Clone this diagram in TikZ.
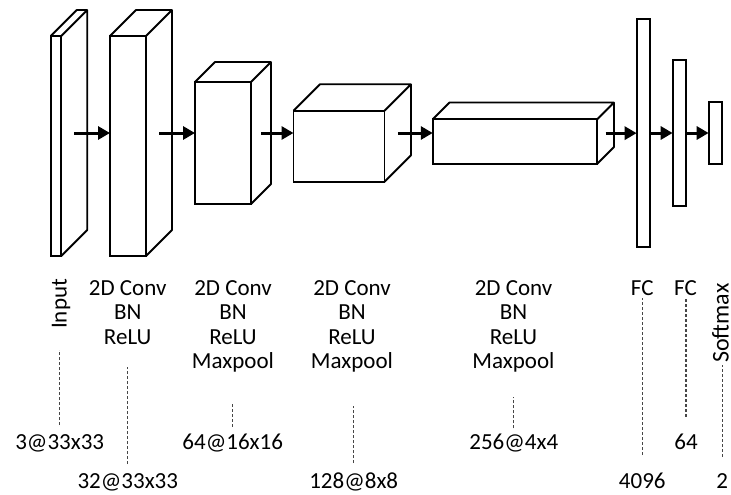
\documentclass[tikz,border=0pt]{standalone}
\usepackage{fontspec}
\setmainfont{Carlito}
\usetikzlibrary{arrows.meta, calc}
\tikzset{
  layer/.style={draw, line width=1.8pt, fill=white, inner sep=0pt, outer sep=0pt},
  flow/.style={line width=3pt, -{Triangle[length=12pt, width=13pt]}},
  guide/.style={gray!55!black, line width=1.2pt, dash pattern=on 3pt off 2pt},
  lbl/.style={align=center, anchor=north, inner sep=0pt},
  num/.style={anchor=base, inner sep=0pt}
}

\begin{document}
\begin{tikzpicture}[x=1pt, y=-1pt, font=\fontsize{23}{24.2}\selectfont]
    \useasboundingbox (0,0) rectangle (731,495);

    % Front faces of the feature maps
    \node[layer, minimum width=10.5pt, minimum height=220pt] (in) at (56,146) {};
    \node[layer, minimum width=36pt, minimum height=220pt] (c1) at (128,146) {};
    \node[layer, minimum width=56pt, minimum height=122pt] (c2) at (223,143) {};
    \node[layer, minimum width=91pt, minimum height=71pt] (c3) at (339,146.25) {};
    \node[layer, minimum width=164.5pt, minimum height=44.5pt] (c4) at (515,141.5) {};

    % Depth of each block
    \foreach \n/\d in {in/26, c1/26, c2/20, c3/26.5, c4/16.7} {
        \draw[line width=1.8pt, line join=round] (\n.north west) -- ++(\d,-\d) -| ($(\n.south east)+(\d,-\d)$) -- (\n.south east)
            (\n.north east) -- ++(\d,-\d);
        \coordinate (\n-out) at ($(\n.east)+(\d/2,-\d/2)$);
    }

    % Fully connected layers
    \node[layer, minimum width=13.3pt, minimum height=228pt] (fc1) at (643.3,133) {};
    \node[layer, minimum width=13.3pt, minimum height=146.6pt] (fc2) at (679.3,133) {};
    \node[layer, minimum width=13.3pt, minimum height=61.4pt] (sm) at (715.3,133) {};

    % Data flow
    \draw[flow] (in-out) -- (in-out -| c1.west);
    \draw[flow] (c1-out) -- (c1-out -| c2.west);
    \draw[flow] (c2-out) -- (c2-out -| c3.west);
    \draw[flow] (c3-out) -- (c3-out -| c4.west);
    \draw[flow] (c4-out) -- (c4-out -| fc1.west);
    \draw[flow] (fc1.east) -- (fc2.west);
    \draw[flow] (fc2.east) -- (sm.west);

    % Layer names
    \node[rotate=90, anchor=base west, inner sep=0pt] (in-lbl) at (66.7,329) {Input};
    \node[lbl] (c1-lbl) at (127.7,280.5) {2D Conv\\BN\\ReLU};
    \node[lbl] (c2-lbl) at (233,280.5) {2D Conv\\BN\\ReLU\\Maxpool};
    \node[lbl] (c3-lbl) at (352,280.5) {2D Conv\\BN\\ReLU\\Maxpool};
    \node[lbl] (c4-lbl) at (513.5,280.5) {2D Conv\\BN\\ReLU\\Maxpool};
    \node[lbl] (fc1-lbl) at (642.3,280.5) {FC};
    \node[lbl] (fc2-lbl) at (685.5,280.5) {FC};
    \node[rotate=90, anchor=base west, inner sep=0pt, font=\fontsize{24}{30}\selectfont] (sm-lbl) at (728.5,363) {Softmax};

    % Output sizes
    \node[num] (in-num) at (59.7,449) {3@33x33};
    \node[num] (c1-num) at (127.8,488.5) {32@33x33};
    \node[num] (c2-num) at (232.7,449) {64@16x16};
    \node[num] (c3-num) at (353.7,488.5) {128@8x8};
    \node[num] (c4-num) at (513.8,449) {256@4x4};
    \node[num] (fc1-num) at (642.3,488.5) {4096};
    \node[num] (fc2-num) at (686,449) {64};
    \node[num] (sm-num) at (722.3,488.5) {2};

    % Leader lines
    \draw[guide] (in-num.base) ++(0,-24) -- ++(0,-75);
    \draw[guide] (c1-num.base) ++(0,-24.5) -- ++(0,-96.7);
    \draw[guide] (c2-num.base) ++(0,-22.3) -- ++(0,-24);
    \draw[guide] (c3-num.base) ++(0,-25.5) -- ++(0,-57);
    \draw[guide] (c4-num.base) ++(0,-20.7) -- ++(0,-31.6);
    \draw[guide] (fc1-num.base) ++(0,-33.5) -- ++(0,-156.7);
    \draw[guide] (fc2-num.base) ++(0,-32.3) -- ++(0,-118.4);
    \draw[guide] (sm-num.base) ++(0,-31.8) -- ++(0,-91.7);
\end{tikzpicture}
\end{document}
